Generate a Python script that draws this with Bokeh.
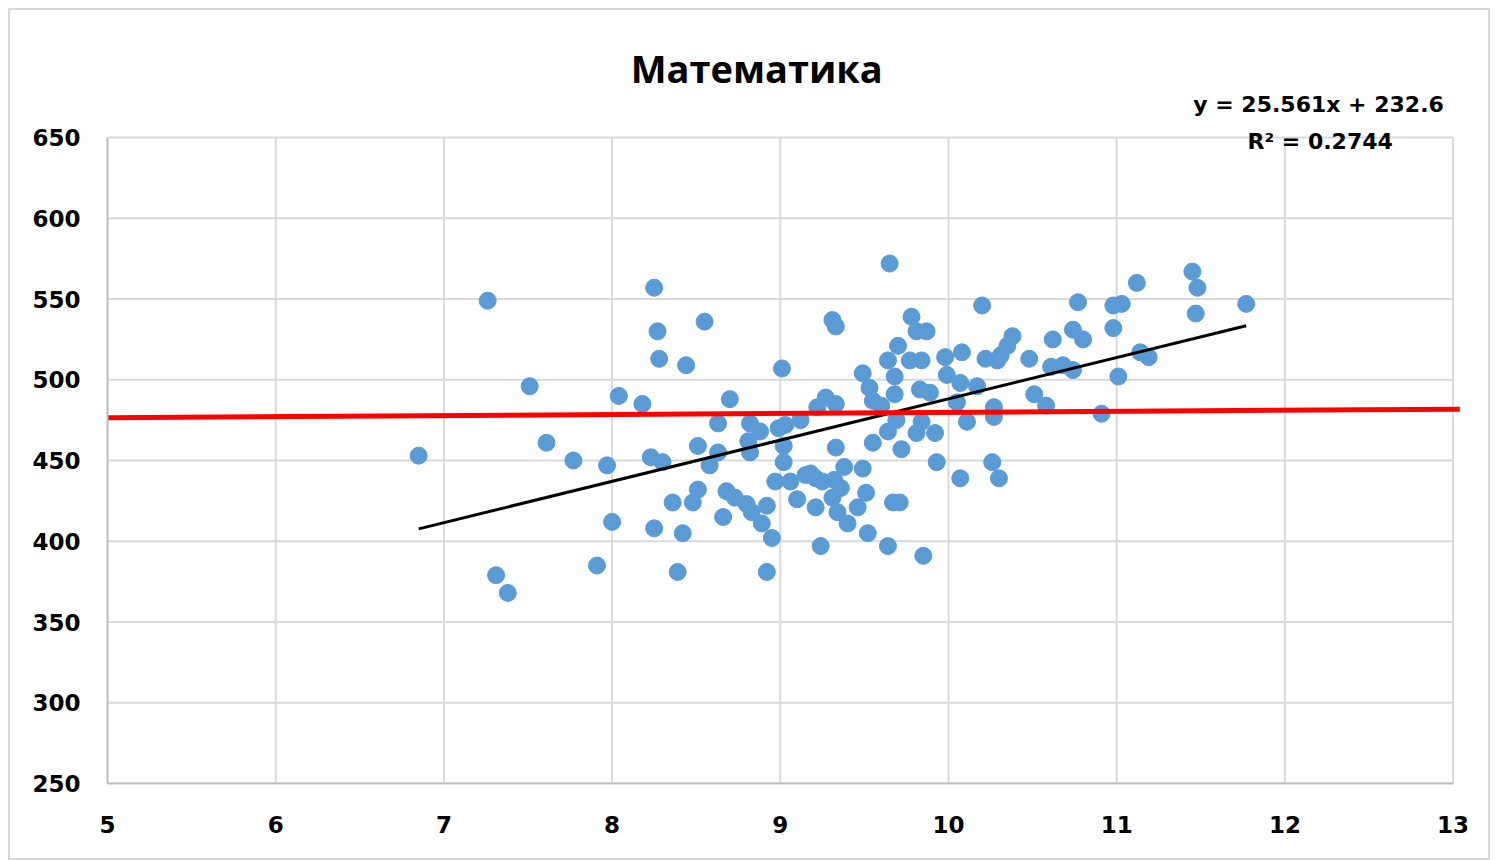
from bokeh.plotting import figure
from bokeh.models import Label, Range1d, FixedTicker
from bokeh.embed import file_html
from bokeh.resources import INLINE

title_text = "Математика"
eq_text = "y = 25.561x + 232.6"
r2_text = "R² = 0.2744"
slope = 25.561
intercept = 232.6

x_ticks = [5, 6, 7, 8, 9, 10, 11, 12, 13]
y_ticks = [250, 300, 350, 400, 450, 500, 550, 600, 650]

xs = [6.85, 7.26, 7.31, 7.38, 7.51, 7.61, 7.77, 7.91, 7.97, 8.00, 8.04, 8.18, 8.23, 8.25, 8.25,
      8.27, 8.28, 8.30, 8.36, 8.39, 8.42, 8.44, 8.48, 8.51, 8.51, 8.55, 8.58, 8.63, 8.63, 8.66,
      8.68, 8.70, 8.73, 8.80, 8.81, 8.82, 8.82, 8.83, 8.88, 8.89, 8.92, 8.92, 8.95, 8.97, 8.99,
      9.01, 9.02, 9.02, 9.03, 9.06, 9.10, 9.12, 9.15, 9.18, 9.21, 9.21, 9.24, 9.25, 9.22, 9.27,
      9.31, 9.33, 9.33, 9.31, 9.32, 9.33, 9.34, 9.36, 9.38, 9.40, 9.46, 9.49, 9.49, 9.51, 9.52,
      9.53, 9.55, 9.55, 9.60, 9.64, 9.64, 9.64, 9.65, 9.67, 9.68, 9.68, 9.69, 9.70, 9.71, 9.72,
      9.77, 9.78, 9.81, 9.81, 9.83, 9.84, 9.84, 9.85, 9.87, 9.89, 9.92, 9.93, 9.98, 9.99, 10.05,
      10.07, 10.07, 10.08, 10.11, 10.17, 10.20, 10.22, 10.26, 10.27, 10.27, 10.29, 10.30, 10.31,
      10.35, 10.38, 10.48, 10.51, 10.58, 10.61, 10.62, 10.68, 10.74, 10.74, 10.77, 10.80, 10.91,
      10.98, 10.98, 11.01, 11.03, 11.12, 11.14, 11.19, 11.45, 11.47, 11.48, 11.77]
ys = [453, 549, 379, 368, 496, 461, 450, 385, 447, 412, 490, 485, 452, 557, 408,
      530, 513, 449, 424, 381, 405, 509, 424, 432, 459, 536, 447, 473, 455, 415,
      431, 488, 427, 423, 462, 473, 455, 418, 468, 411, 381, 422, 402, 437, 470,
      507, 459, 449, 472, 437, 426, 475, 441, 442, 421, 439, 397, 437, 483, 489,
      537, 533, 485, 427, 438, 458, 418, 433, 446, 411, 421, 504, 445, 430, 405,
      495, 487, 461, 484, 512, 468, 397, 572, 424, 502, 491, 475, 521, 424, 457,
      512, 539, 530, 467, 494, 512, 474, 391, 530, 492, 467, 449, 514, 503, 486,
      498, 439, 517, 474, 496, 546, 513, 449, 483, 477, 512, 439, 515,
      521, 527, 513, 491, 484, 508, 525, 509, 531, 506, 548, 525, 479,
      546, 532, 502, 547, 560, 517, 514, 567, 541, 557, 547]

red_x = [5, 13.04]
red_y = [476.5, 481.8]

TICK_FONT = "DejaVu Sans"
TITLE_FONT = "Open Sans"

x_min, x_max = x_ticks[0], x_ticks[-1]
y_min, y_max = y_ticks[0], y_ticks[-1]

# frame is extended above the axis so that the title and equation texts sit inside it
p = figure(width=1482, height=852, output_backend="svg", toolbar_location=None,
           x_range=Range1d(x_min, 13.05), y_range=Range1d(y_min, 720),
           min_border_left=97, min_border_top=14, min_border_right=31, min_border_bottom=79,
           background_fill_color="white", border_fill_color="white", title=None)
p.styles = {"border": "2px solid #d9d9d9", "margin": "8px 0 0 8px"}
p.outline_line_color = None
p.xgrid.visible = False
p.ygrid.visible = False

for ax, ticks in ((p.xaxis, x_ticks), (p.yaxis, y_ticks)):
    ax.ticker = FixedTicker(ticks=ticks)
    ax.bounds = (ticks[0], ticks[-1])
    ax.axis_line_color = "#bfbfbf"
    ax.axis_line_width = 2
    ax.major_tick_line_color = None
    ax.minor_tick_line_color = None
    ax.major_tick_out = 0
    ax.major_tick_in = 0
    ax.major_label_text_font = TICK_FONT
    ax.major_label_text_font_style = "bold"
    ax.major_label_text_font_size = "23px"
    ax.major_label_text_color = "black"
p.xaxis.major_label_standoff = 32
p.yaxis.major_label_standoff = 27

# grid lines limited to the axis extent
p.segment(x0=x_ticks, y0=[y_min] * len(x_ticks), x1=x_ticks, y1=[y_max] * len(x_ticks),
          line_color="#d9d9d9", line_width=2)
p.segment(x0=[x_min] * len(y_ticks), y0=y_ticks, x1=[x_max] * len(y_ticks), y1=y_ticks,
          line_color="#d9d9d9", line_width=2)

p.scatter(xs, ys, size=17, color="#5b9bd5", line_color="#5b9bd5")

x0, x1 = min(xs), max(xs)
p.line([x0, x1], [slope * x0 + intercept, slope * x1 + intercept], line_color="black", line_width=3)

p.line(red_x, red_y, line_color="#ff0000", line_width=5)

p.add_layout(Label(x=8.86, y=693.3, text=title_text, text_align="center", text_baseline="middle",
                   text_font=TITLE_FONT, text_font_style="bold", text_font_size="38px", text_color="black"))
p.add_layout(Label(x=12.2, y=670.4, text=eq_text, text_align="center", text_baseline="middle",
                   text_font=TICK_FONT, text_font_style="bold", text_font_size="22px", text_color="black"))
p.add_layout(Label(x=12.21, y=647.5, text=r2_text, text_align="center", text_baseline="middle",
                   text_font=TICK_FONT, text_font_style="bold", text_font_size="22px", text_color="black"))

open("out.html", "w").write(file_html(p, INLINE))
